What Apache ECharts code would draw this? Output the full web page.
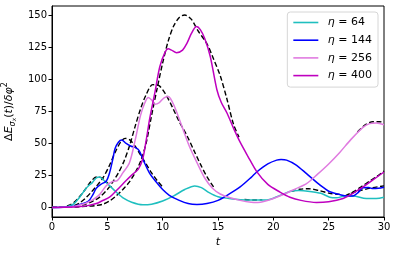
<!DOCTYPE html>
<html><head><meta charset="utf-8">
<script src="https://cdn.jsdelivr.net/npm/echarts@6/dist/echarts.min.js"></script>
<style>html,body{margin:0;padding:0;background:#fff}#c{width:398px;height:257px}</style>
</head><body><div id="c"></div>
<script>
// tick labels
const xTicks = [0, 5, 10, 15, 20, 25, 30];
const yTicks = [0, 25, 50, 75, 100, 125, 150];
const etaNames = ['64', '144', '256', '400'];

// eta = 64
const t64 = [0,1,1.5,2,2.5,3,3.3,3.6,4.0,4.3,4.7,5.2,5.8,6.5,7.2,8.2,9,10,11,12,12.9,13.5,14.2,15,16,17,18,19.4,20.5,21.5,22.3,23.3,24.3,25.1,25.7,26.5,27.2,28.4,29.3,30];
const v64 = [0,0.3,1,3,8,14,17,19,23,23.8,21,17,12,7,4,2,2.5,5,9,14,16.8,15.5,11.5,8.3,7,6,5.7,5.8,9,12.5,13.2,12.5,11,8,7.5,9,9,7,7,8];
// eta = 144
const t144 = [0,1,2,2.6,3.3,3.7,4.0,4.5,4.9,5.2,5.5,5.7,6.0,6.3,6.7,7.1,7.6,7.9,8.3,8.8,9.4,10.0,10.6,11.5,12.3,13.1,14,15,16.1,17,18,18.5,19.5,20.3,20.7,21.2,22,23,24,24.6,25.1,26,26.7,27.2,27.7,28.1,28.6,29.0,29.5,30];
const v144 = [0,0.2,1,2.5,5,10,15,18.5,20.5,27,38,46,51,52.7,50,48,46.5,44,36,27,20,14,9.5,5.5,3,2.3,3,5.5,10.9,16,23.5,27.7,34,37,37.5,37,33.5,26.4,19,15,12.2,10,9,9,12,15.3,15.5,14.7,15,15.8];
// eta = 256
const t256 = [0,1,2,3,3.7,4.3,4.9,5.4,5.9,6.4,7.0,7.5,8.0,8.4,8.7,9.0,9.3,9.7,10.1,10.5,10.9,11.2,11.8,12.4,13.1,13.8,14.5,15.2,16.1,17,18,18.6,19.3,20,21,22,23,24,25,26,27,28.1,28.7,29.3,30];
const v256 = [0,0.1,0.8,3,6,10,17,20,21,27,35,52,72,82,85.9,84,80.7,82,85.5,86.7,82,76,62,48,35,23,15,10.5,7.5,5.5,4,3.8,5,7,10.5,14.5,18.6,26,34,43,53,62.6,65.5,66,64.6];
// eta = 400
const t400 = [0,2,3,4,4.5,5.2,5.8,6.7,7.3,7.8,8.2,8.5,8.84,9.3,9.74,10.2,10.5,10.8,11.25,11.8,12.2,12.6,13.05,13.4,13.8,14.3,14.9,15.3,15.8,16.4,17.0,17.7,18.5,19.5,20.6,21.5,22.5,23.9,25,26.3,27.2,28.1,29,30];
const v400 = [0,0.3,1,3,5,8,13,21,26,30,38,52,70,90,110,121,124,123,121,123,128.5,136,141.4,139,132,118,92,82,74,62,51,40,28,18,12,8,5.5,3.9,4.5,7,11,16,21.5,27.7];

// analytic (dashed) curves, null separates visible segments
const dashT64 = [0,1,1.5,2,2.5,3,3.5,4.0,4.4,4.9,5.4, null, 17.4,18.2,19.0, null, 21.6,22.4,23.2,24.2,25.2,26.0];
const dashV64 = [0,0.5,1.5,4,8.5,14,20,23.8,23.5,20,15.5, null, 6.2,5.8,5.9, null, 12.5,14.2,14.6,13,10.8,10.2];
const dashT144 = [0,1,2,2.5,3,3.5,4,4.6,5.2,5.7,6.2,6.6,7.0,7.5,8.0,8.5,9.0,9.5,10.0, null, 27,28,29,30];
const dashV144 = [0,0.3,1.5,3.5,7,11.5,16.5,23,33,43,51,54,53,48,41,34,27,21,16, null, 11,13.5,15.5,16.8];
const dashT256 = [0,2,3,3.7,4.3,5,5.5,6,6.5,7,7.5,8,8.5,9.1,9.7,10.3,10.9,11.5,12.2,12.8,13.4,14.0,14.6, null, 27.6,28.3,29,29.6,30];
const dashV256 = [0,1,2.5,5,8,14,20,27,36,48,63,77,88,96,95,88,78,67,56,45,34,24,16, null, 59,64.5,67,67,66.5];
const dashT400 = [0,2,3,4,4.6,5.2,5.8,6.4,7.0,7.5,8.0,8.5,9.0,9.5,10.0,10.5,11.0,11.5,12.0,12.6,13.2,14.0,14.6,15.2,15.8,16.4,16.9, null, 26.5,27.3,28,28.7,29.4,30];
const dashV400 = [0,0.3,0.8,1.5,2.5,5,9,14,20,27,36,50,72,93,113,130,142,148.5,150.5,147,138,128,116,103,85,65,55, null, 9,12.5,16.5,20.5,24.5,28.5];

const colors = ['#1fbfbf', '#0000ff', '#e07be0', '#bf00bf'];
const lines = [[t64, v64], [t144, v144], [t256, v256], [t400, v400]];
const dashes = [[dashT64, dashV64], [dashT144, dashV144], [dashT256, dashV256], [dashT400, dashV400]];

function segments(ts, vs) {
  const segs = []; let cur = [];
  for (let i = 0; i < ts.length; i++) {
    if (ts[i] === null) { if (cur.length) segs.push(cur); cur = []; }
    else cur.push([ts[i], vs[i]]);
  }
  if (cur.length) segs.push(cur);
  return segs;
}

const series = [];
dashes.forEach((d, k) => {
  segments(d[0], d[1]).forEach((seg, j) => {
    series.push({
      name: 'dash' + k + '_' + j, type: 'line', data: seg, symbol: 'none', smooth: 0.3,
      lineStyle: { color: '#000', width: 1.4, type: [5, 2.5] }, z: 1, silent: true
    });
  });
});
lines.forEach((l, k) => {
  series.push({
    name: etaNames[k], type: 'line', data: l[0].map((t, i) => [t, l[1][i]]),
    symbol: 'none', smooth: 0.3, color: colors[k],
    lineStyle: { color: colors[k], width: 1.5 }, z: 2
  });
});

const chart = echarts.init(document.getElementById('c'), null, { renderer: 'canvas' });
const font = 'DejaVu Sans';
chart.setOption({
  animation: false,
  backgroundColor: '#fff',
  grid: { left: 52, right: 14, top: 6, bottom: 40, containLabel: false, outerBoundsMode: 'none',
          show: true, borderColor: '#000', borderWidth: 1, backgroundColor: 'transparent' },
  legend: {
    data: etaNames, right: 20, top: 12, orient: 'vertical', icon: 'rect', itemWidth: 25, itemHeight: 1.6, itemGap: 4.7,
    backgroundColor: 'rgba(255,255,255,0.85)', borderColor: '#d6d6d6', borderWidth: 1, borderRadius: 3,
    padding: [4, 6, 5, 6],
    formatter: n => '{i|η} = ' + n,
    textStyle: { fontFamily: font, fontSize: 11, lineHeight: 13, color: '#000', padding: [0, 0, 0, 4.5],
      rich: { i: { fontFamily: font, fontStyle: 'italic', fontSize: 11, lineHeight: 13 } } }
  },
  xAxis: {
    type: 'value', min: 0, max: 30, interval: 5,
    name: 't', nameLocation: 'middle', nameGap: 20,
    nameTextStyle: { fontFamily: font, fontStyle: 'italic', fontSize: 11, color: '#000' },
    axisLine: { show: true, onZero: false, lineStyle: { color: '#000', width: 1 } },
    axisTick: { show: true, inside: false, length: 3.5, lineStyle: { color: '#000' } },
    axisLabel: { fontFamily: font, fontSize: 10, color: '#000', margin: 5 },
    splitLine: { show: false }
  },
  yAxis: {
    type: 'value', min: -7.5, max: 157.5,
    name: '{n|Δ}{i|E}{s|σ}{ss|x}{n|(}{i|t}{n|)/}{i|δφ}{p|2}',
    nameLocation: 'middle', nameGap: 31, nameRotate: 90,
    nameTextStyle: {
      fontFamily: font, fontSize: 11, color: '#000',
      rich: {
        n: { fontFamily: font, fontSize: 11, lineHeight: 16, verticalAlign: 'middle' },
        i: { fontFamily: font, fontSize: 11, fontStyle: 'italic', lineHeight: 16, verticalAlign: 'middle' },
        s: { fontFamily: font, fontSize: 8, fontStyle: 'italic', lineHeight: 16, verticalAlign: 'bottom' },
        ss: { fontFamily: font, fontSize: 6, fontStyle: 'italic', lineHeight: 16, verticalAlign: 'bottom' },
        p: { fontFamily: font, fontSize: 8, lineHeight: 16, verticalAlign: 'top' }
      }
    },
    axisLine: { show: true, onZero: false, lineStyle: { color: '#000', width: 1 } },
    axisTick: { show: true, inside: false, length: 3.5, customValues: yTicks, lineStyle: { color: '#000' } },
    axisLabel: { fontFamily: font, fontSize: 10, color: '#000', margin: 5, customValues: yTicks },
    splitLine: { show: false }
  },
  series: series
});
</script></body></html>
